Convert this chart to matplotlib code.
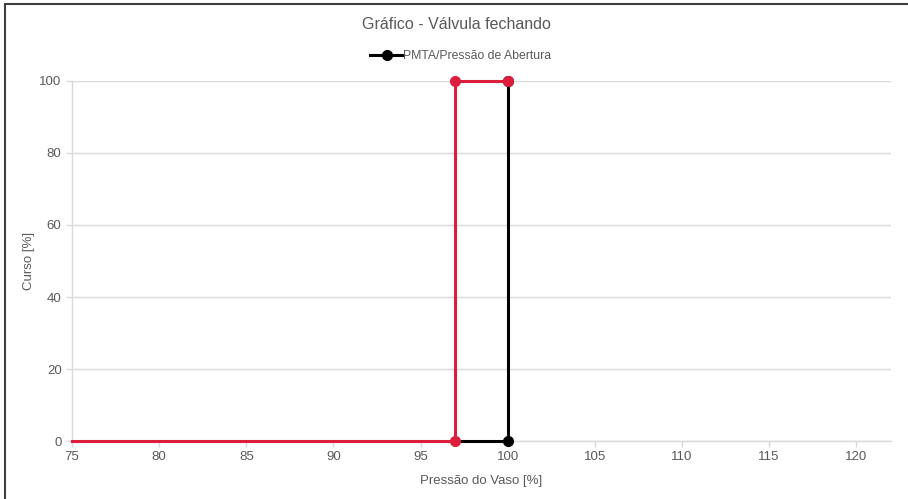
import matplotlib.pyplot as plt
from matplotlib.patches import Rectangle

plt.rcParams['font.family'] = ['Liberation Sans', 'DejaVu Sans']

# data
red_x = [75, 97, 97, 100]
red_y = [0, 0, 100, 100]
black_x = [97, 100, 100]
black_y = [0, 0, 100]
x_ticks = [75, 80, 85, 90, 95, 100, 105, 110, 115, 120]
y_ticks = [0, 20, 40, 60, 80, 100]

grey = '#595959'
light = '#d9d9d9'

fig = plt.figure(figsize=(9.08, 4.99), dpi=100)
ax = fig.add_axes([0.0793, 0.1162, 0.9020, 0.7215])

# outer frame
fig.patches.append(Rectangle((5 / 908, -0.1), 1.2, 1 - 4 / 499 + 0.1, transform=fig.transFigure,
                             fill=False, edgecolor='#404040', linewidth=1.5))

# series
ax.plot(black_x, black_y, color='black', linewidth=2.2, marker='o', markersize=7,
        markevery=[1, 2], label='PMTA/Pressão de Abertura', zorder=3, clip_on=False)
ax.plot(red_x, red_y, color='#dc1e3c', linewidth=2.2, marker='o', markersize=7,
        markevery=[1, 2, 3], zorder=4, clip_on=False)

ax.set_xlim(75, 122)
ax.set_ylim(0, 100)
ax.set_xticks(x_ticks)
ax.set_yticks(y_ticks)

# grid
ax.grid(axis='y', color=light, linewidth=1)
ax.set_axisbelow(True)
for s in ['top', 'right']:
    ax.spines[s].set_visible(False)
for s in ['left', 'bottom']:
    ax.spines[s].set_color(light)
    ax.spines[s].set_linewidth(1)
ax.tick_params(colors=light, labelcolor=grey, labelsize=9.5, length=4, width=1)

ax.set_xlabel('Pressão do Vaso [%]', color=grey, fontsize=9.5, labelpad=8)
ax.set_ylabel('Curso [%]', color=grey, fontsize=9.5, labelpad=3)

fig.text(0.503, 0.950, 'Gráfico - Válvula fechando', ha='center', va='center',
         fontsize=11.5, color=grey)

ax.legend(loc='center', bbox_to_anchor=(0.475, 1.07), frameon=False, fontsize=8.8,
          handlelength=2.7, handletextpad=0.0, labelcolor=grey)

plt.savefig('out.png', dpi=100)
